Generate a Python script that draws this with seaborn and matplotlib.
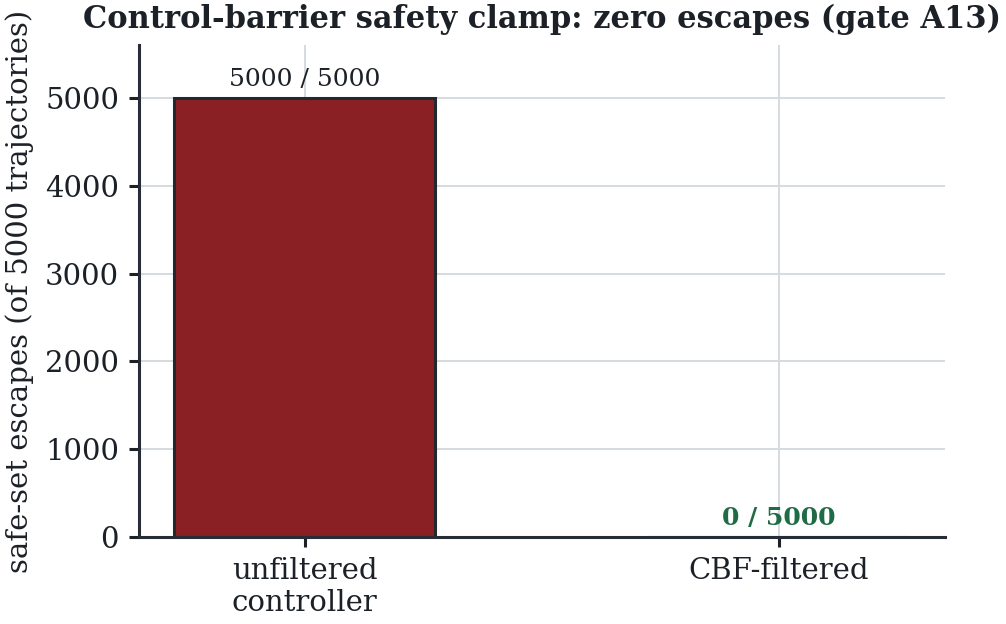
import matplotlib
matplotlib.use("Agg")
import matplotlib.pyplot as plt
import seaborn as sns
import pandas as pd

# data
categories = ["unfiltered\ncontroller", "CBF-filtered"]
escapes = [5000, 0]
total = 5000
bar_colors = ["#8a2023", "#8a2023"]
label_colors = ["#1c2128", "#1f6b45"]
label_weights = ["normal", "bold"]

sns.set_theme(style="whitegrid")
plt.rcParams["font.family"] = ["DejaVu Serif"]
plt.rcParams["axes.edgecolor"] = "#262d36"
plt.rcParams["grid.color"] = "#d5dae0"
plt.rcParams["text.color"] = "#1c2128"
plt.rcParams["axes.labelcolor"] = "#1c2128"
plt.rcParams["xtick.color"] = "#1c2128"
plt.rcParams["ytick.color"] = "#1c2128"

df = pd.DataFrame({"mode": categories, "escapes": escapes})

fig, ax = plt.subplots(figsize=(5.03, 3.12), dpi=200)
fig.subplots_adjust(left=0.138, right=0.939, bottom=0.139, top=0.928)

sns.barplot(data=df, x="mode", y="escapes", hue="mode", palette=bar_colors,
            legend=False, width=0.55, edgecolor="#23282e", linewidth=1.1,
            saturation=1, ax=ax)

for i, v in enumerate(escapes):
    ax.annotate(f"{v} / {total}", (i, v), xytext=(0, 2.5), textcoords="offset points",
                ha="center", va="bottom", fontsize=9, color=label_colors[i],
                fontweight=label_weights[i])

ax.set_xlim(-0.35, 1.35)
ax.set_ylim(0, 5600)
ax.set_yticks([0, 1000, 2000, 3000, 4000, 5000])
ax.set_xlabel("")
ax.set_ylabel("safe-set escapes (of 5000 trajectories)", fontsize=10.5)
ax.set_title("Control-barrier safety clamp: zero escapes (gate A13)",
             fontsize=11, fontweight="bold")
ax.tick_params(axis="both", labelsize=10.5, length=3.6, width=1.1, bottom=True, left=True)
ax.grid(True, linewidth=0.7)
ax.set_axisbelow(True)
sns.despine(ax=ax)
for s in ["left", "bottom"]:
    ax.spines[s].set_linewidth(1.1)

fig.savefig("out.png", dpi=200)
